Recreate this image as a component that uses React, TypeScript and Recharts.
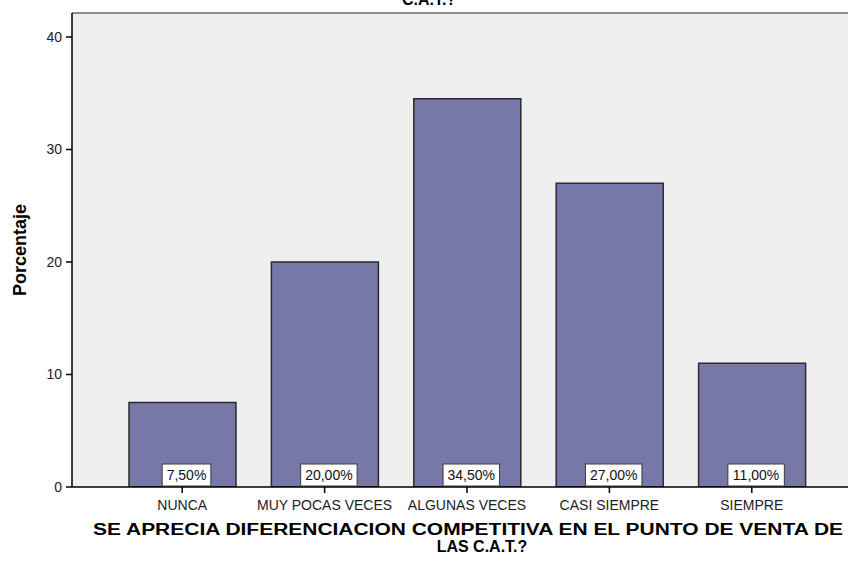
import React from 'react';
import { BarChart, Bar, XAxis, YAxis, CartesianGrid, LabelList, Label, ReferenceLine } from 'recharts';

const categories = ['NUNCA', 'MUY POCAS VECES', 'ALGUNAS VECES', 'CASI SIEMPRE', 'SIEMPRE'];
const percentages = [7.5, 20, 34.5, 27, 11];
const yTicks = [0, 10, 20, 30, 40];
const yMax = 42.13;
const titleTail = 'C.A.T.?';
const xTitleLines = ['SE APRECIA DIFERENCIACION COMPETITIVA EN EL PUNTO DE VENTA DE', 'LAS C.A.T.?'];
const yTitle = 'Porcentaje';

const data = categories.map((c, i) => ({ category: c, value: percentages[i] }));

const FONT = 'Liberation Sans, Arial, sans-serif';

const fmt = (v: number) => v.toFixed(2).replace('.', ',') + '%';

const charW = (s: string) => {
  let w = 0;
  for (const ch of s) {
    if (ch === ',' || ch === '.') w += 0.278;
    else if (ch === '%') w += 0.889;
    else w += 0.556;
  }
  return w;
};

const ValueBox = (props: any) => {
  const { x, y, width, height, value } = props;
  const label = fmt(Number(value));
  const fs = 14;
  const bw = charW(label) * fs + 9;
  const bh = 22;
  const cx = x + width / 2 + 4;
  const bottom = y + height - 1;
  return (
    <g>
      <rect x={cx - bw / 2} y={bottom - bh} width={bw} height={bh} fill="#ffffff" stroke="#3a3a3a" strokeWidth={1} />
      <text x={cx} y={bottom - 6} textAnchor="middle" fontSize={fs} fontFamily={FONT} fill="#111">{label}</text>
    </g>
  );
};

const XTitle = () => (
  <g>
    <text x={468} y={535} textAnchor="middle" fontSize={16} fontWeight="bold" fontFamily={FONT} fill="#000" textLength={750} lengthAdjust="spacingAndGlyphs">{xTitleLines[0]}</text>
    <text x={482} y={552} textAnchor="middle" fontSize={16} fontWeight="bold" fontFamily={FONT} fill="#000">{xTitleLines[1]}</text>
    <text x={429} y={5} textAnchor="middle" fontSize={16} fontWeight="bold" fontFamily={FONT} fill="#000">{titleTail}</text>
  </g>
);

const YTitle = () => (
  <text x={26} y={250} transform="rotate(-90 26 250)" textAnchor="middle" fontSize={18} fontWeight="bold" fontFamily={FONT} fill="#000">{yTitle}</text>
);

export default function App() {
  return (
    <div style={{ position: 'absolute', left: 0, top: 0, width: 848, height: 561, background: '#fff' }}>
      <BarChart width={848} height={561} data={data} margin={{ top: 13, right: 0, left: 0, bottom: 0 }}>
        <CartesianGrid horizontal={false} vertical={false} fill="#efefef" stroke="none" />
        <XAxis
          dataKey="category"
          height={74}
          interval={0}
          padding={{ left: 39, right: 25 }}
          tickSize={6}
          tickMargin={7}
          axisLine={{ stroke: '#000', strokeWidth: 1.5 }}
          tickLine={{ stroke: '#000', strokeWidth: 1.5 }}
          tick={{ fill: '#222', fontSize: 14, fontFamily: FONT }}
        >
          <Label content={XTitle} />
        </XAxis>
        <YAxis
          width={72}
          domain={[0, yMax]}
          ticks={yTicks}
          allowDataOverflow
          tickSize={6}
          tickMargin={4}
          axisLine={{ stroke: '#000', strokeWidth: 1.5 }}
          tickLine={{ stroke: '#000', strokeWidth: 1.5 }}
          tick={{ fill: '#222', fontSize: 14, fontFamily: FONT }}
        >
          <Label content={YTitle} />
        </YAxis>
        <ReferenceLine y={yMax} stroke="#8c8c8c" strokeWidth={2} />
        <Bar dataKey="value" fill="#7878a8" stroke="#2b2b2b" strokeWidth={1.5} barSize={107} isAnimationActive={false}>
          <LabelList dataKey="value" content={ValueBox} />
        </Bar>
      </BarChart>
    </div>
  );
}
